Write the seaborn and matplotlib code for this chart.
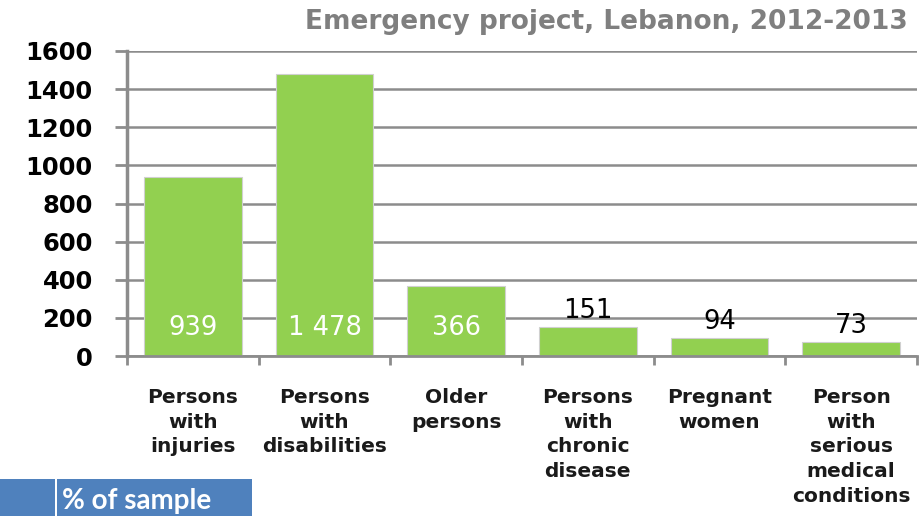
import matplotlib
matplotlib.use("Agg")
import matplotlib.pyplot as plt
import seaborn as sns
import pandas as pd
from matplotlib.patches import Rectangle

categories = ["Persons\nwith\ninjuries", "Persons\nwith\ndisabilities", "Older\npersons",
              "Persons\nwith\nchronic\ndisease", "Pregnant\nwomen",
              "Person\nwith\nserious\nmedical\nconditions"]
values = [939, 1478, 366, 151, 94, 73]
value_labels = ["939", "1 478", "366", "151", "94", "73"]
y_ticks = [0, 200, 400, 600, 800, 1000, 1200, 1400, 1600]
title = "Emergency project, Lebanon, 2012-2013"
box_text = "% of sample"

sns.set_style("white")
plt.rcParams['font.family'] = ['DejaVu Sans']

W, H = 921, 516
fig = plt.figure(figsize=(W / 100, H / 100), dpi=100)
ax = fig.add_axes([127 / W, 1 - 356 / H, (917 - 127) / W, (356 - 51) / H])

df = pd.DataFrame({"cat": categories, "val": values})
sns.barplot(data=df, x="cat", y="val", color="#92D050", width=0.74, saturation=1,
            edgecolor="#d0d0d0", linewidth=0.8, ax=ax)
ax.set_axisbelow(True)
ax.set_xlim(-0.5, 5.5)
ax.set_ylim(0, 1600)
ax.set_xlabel("")
ax.set_ylabel("")

grid_c = "#8c8c8c"
ax.yaxis.grid(True, color=grid_c, linewidth=1.8)
ax.xaxis.grid(False)
for s in ["top", "right"]:
    ax.spines[s].set_visible(False)
ax.spines["left"].set_color(grid_c)
ax.spines["left"].set_linewidth(2.5)
ax.spines["bottom"].set_color(grid_c)
ax.spines["bottom"].set_linewidth(2)

ax.set_yticks(y_ticks)
ax.set_yticklabels([str(t) for t in y_ticks])
ax.tick_params(axis="y", left=True, length=8.6, width=2, color=grid_c, pad=16,
               labelsize=17.5, labelcolor="black")
for lab in ax.get_yticklabels():
    lab.set_fontweight("bold")

ax.set_xticks(range(len(categories)))
ax.set_xticklabels(categories)
ax.set_xticks([i - 0.5 for i in range(len(categories) + 1)], minor=True)
ax.tick_params(axis="x", which="major", bottom=True, length=0, pad=23, labelsize=14.5,
               labelcolor="#1a1a1a")
ax.tick_params(axis="x", which="minor", bottom=True, length=6.5, width=2, color=grid_c)
for lab in ax.get_xticklabels():
    lab.set_fontweight("bold")
    lab.set_linespacing(1.38)
    lab.set_verticalalignment("top")

for i, (v, lbl) in enumerate(zip(values, value_labels)):
    if v > 300:
        ax.text(i, 147, lbl, color="white", ha="center", va="center", fontsize=18.5)
    else:
        ax.annotate(lbl, (i, v), xytext=(0, 2), textcoords="offset points",
                    ha="center", va="bottom", fontsize=18.5, color="black")

fig.text(908 / W, 1 - 22 / H, title, ha="right", va="center", fontsize=19,
         fontweight="bold", color="#7f7f7f")

fig.patches.append(Rectangle((0, 0), 55 / W, 37 / H, transform=fig.transFigure,
                             facecolor="#4F81BD", edgecolor="none"))
fig.patches.append(Rectangle((57 / W, 0), 195 / W, 37 / H, transform=fig.transFigure,
                             facecolor="#4F81BD", edgecolor="none"))
fig.text(62 / W, 7 / H, box_text, ha="left", va="baseline", fontsize=20,
         fontweight="bold", color="white", family=["Lato", "DejaVu Sans"])

fig.savefig("out.png", dpi=100)
